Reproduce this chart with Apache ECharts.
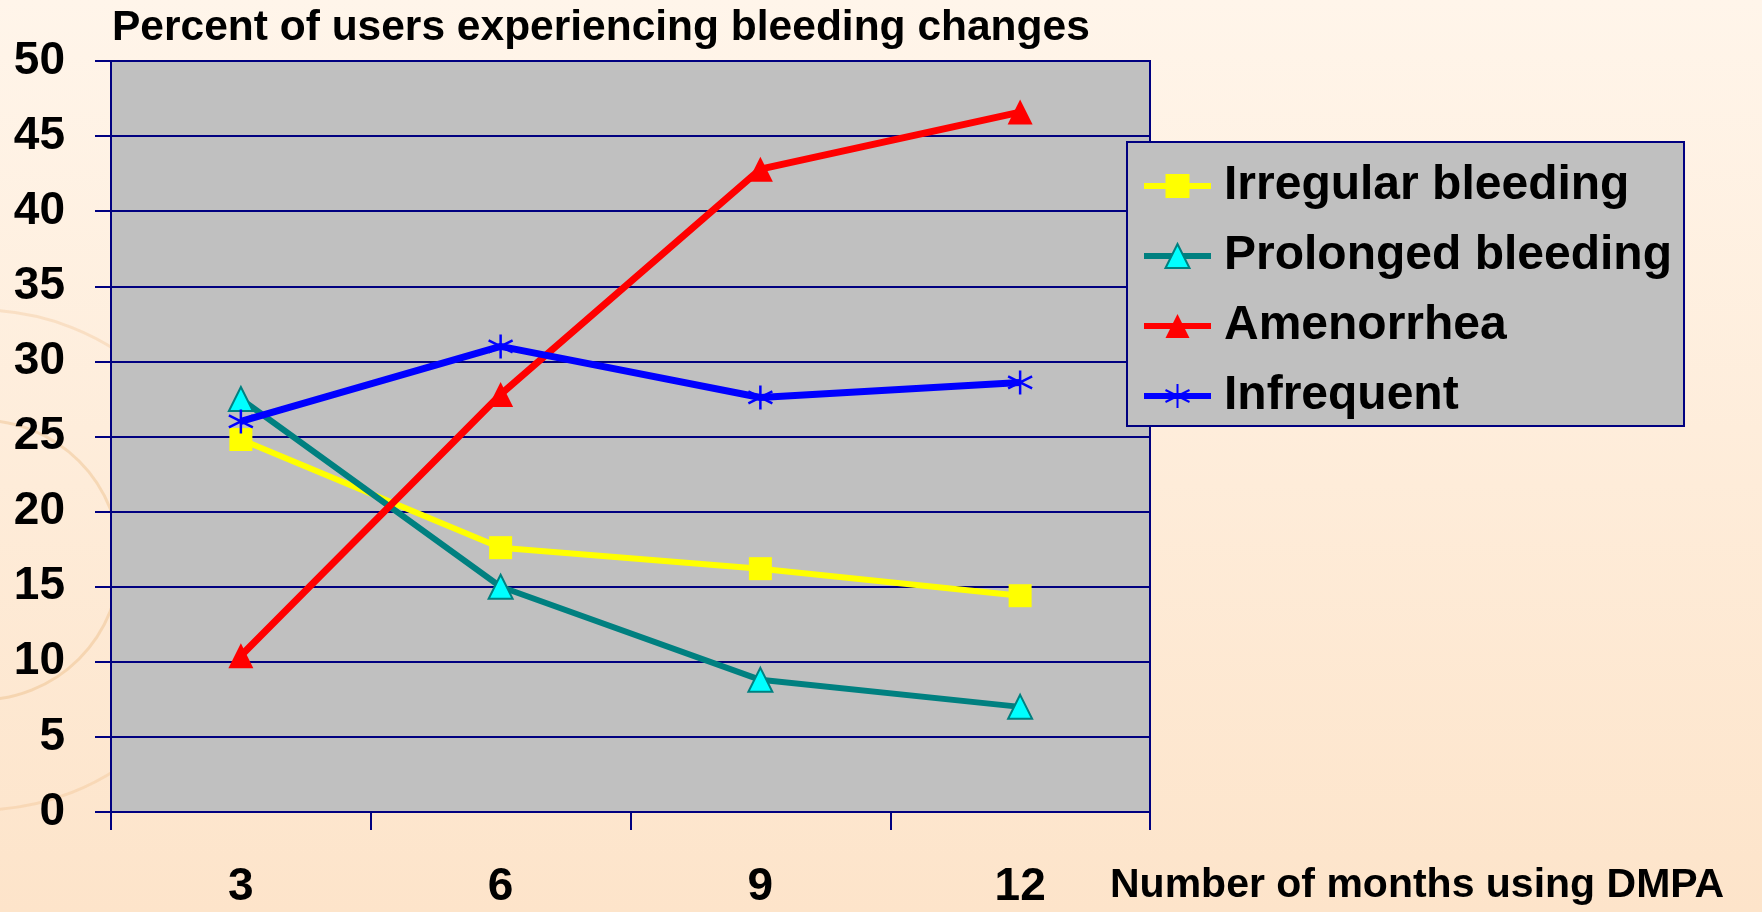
<!DOCTYPE html>
<html>
<head>
<meta charset="utf-8">
<script src="https://cdn.jsdelivr.net/npm/echarts@6/dist/echarts.min.js"></script>
<style>
  html, body { margin: 0; padding: 0; }
  #chart { width: 1762px; height: 912px; }
</style>
</head>
<body>
<div id="chart"></div>
<script>
// months on DMPA
var months = ['3', '6', '9', '12'];

// percent of users
var irregular = [24.8, 17.6, 16.2, 14.4];
var prolonged = [27.5, 15.0, 8.8, 7.0];
var amenorrhea = [10.4, 27.8, 42.8, 46.6];
var infrequent = [26.0, 31.0, 27.6, 28.6];

var navy = '#000080';
var font = 'Liberation Sans, Arial, sans-serif';
var asterisk = 'path://M10 0L10 20M1.3 5L18.7 15M1.3 15L18.7 5';

var myChart = echarts.init(document.getElementById('chart'));

var option = {
    backgroundColor: {
        type: 'linear', x: 0, y: 0, x2: 0, y2: 1,
        colorStops: [
            { offset: 0, color: '#fff5ea' },
            { offset: 1, color: '#fde4ca' }
        ]
    },
    graphic: [
        // faint rings on the left of the slide
        { type: 'circle', shape: { cx: -20, cy: 560, r: 140 }, silent: true, z: -10,
          style: { fill: 'none', stroke: 'rgba(230,170,100,0.3)', lineWidth: 3 } },
        { type: 'circle', shape: { cx: -20, cy: 560, r: 250 }, silent: true, z: -10,
          style: { fill: 'none', stroke: 'rgba(230,170,100,0.22)', lineWidth: 3 } },
        { type: 'text', left: 1110, top: 865, z: 10,
          style: { text: 'Number of months using DMPA', font: 'bold 41px ' + font, fill: '#000' } }
    ],
    title: {
        text: 'Percent of users experiencing bleeding changes',
        left: 112,
        top: 7,
        padding: 0,
        textStyle: { fontFamily: font, fontWeight: 'bold', fontSize: 42.5, color: '#000' }
    },
    legend: {
        orient: 'vertical',
        left: 1127,
        top: 142,
        padding: [20, 12, 6, 14],
        itemGap: 22,
        itemWidth: 67,
        itemHeight: 30,
        backgroundColor: '#c0c0c0',
        borderColor: navy,
        borderWidth: 2,
        borderRadius: 0,
        textStyle: { fontFamily: font, fontWeight: 'bold', fontSize: 48, lineHeight: 48, color: '#000', padding: [0, 0, 0, 8] },
        data: [
            { name: 'Irregular bleeding', lineStyle: { width: 6 } },
            { name: 'Prolonged bleeding', lineStyle: { width: 6 } },
            { name: 'Amenorrhea', lineStyle: { width: 6 } },
            { name: 'Infrequent', lineStyle: { width: 6 } }
        ]
    },
    grid: {
        left: 111,
        right: 612,
        top: 61,
        bottom: 100,
        show: true,
        backgroundColor: '#c0c0c0',
        borderColor: navy,
        borderWidth: 2
    },
    xAxis: {
        type: 'category',
        data: months,
        boundaryGap: true,
        axisLine: { lineStyle: { color: navy, width: 2 } },
        axisTick: { show: true, length: 18, lineStyle: { color: navy, width: 2 } },
        axisLabel: { margin: 52, fontFamily: font, fontWeight: 'bold', fontSize: 46, color: '#000' }
    },
    yAxis: {
        type: 'value',
        min: 0,
        max: 50,
        interval: 5,
        axisLine: { show: true, lineStyle: { color: navy, width: 2 } },
        axisTick: { show: true, length: 16, lineStyle: { color: navy, width: 2 } },
        axisLabel: { margin: 46, fontFamily: font, fontWeight: 'bold', fontSize: 46, color: '#000' },
        splitLine: { lineStyle: { color: navy, width: 2 } }
    },
    series: [
        {
            name: 'Irregular bleeding', type: 'line', data: irregular,
            symbol: 'rect', symbolSize: 23,
            color: '#ffff00',
            lineStyle: { color: '#ffff00', width: 6 },
            itemStyle: { color: '#ffff00' }
        },
        {
            name: 'Prolonged bleeding', type: 'line', data: prolonged,
            symbol: 'triangle', symbolSize: 24,
            color: '#008080',
            lineStyle: { color: '#008080', width: 6 },
            itemStyle: { color: '#00ffff', borderColor: '#008080', borderWidth: 2 }
        },
        {
            name: 'Amenorrhea', type: 'line', data: amenorrhea,
            symbol: 'triangle', symbolSize: 25,
            color: '#ff0000',
            lineStyle: { color: '#ff0000', width: 7 },
            itemStyle: { color: '#ff0000' }
        },
        {
            name: 'Infrequent', type: 'line', data: infrequent,
            symbol: asterisk, symbolSize: 24,
            color: '#0000ff',
            lineStyle: { color: '#0000ff', width: 7 },
            itemStyle: { color: 'none', borderColor: '#0000ff', borderWidth: 2.5 }
        }
    ]
};

myChart.setOption(option);
</script>
</body>
</html>
